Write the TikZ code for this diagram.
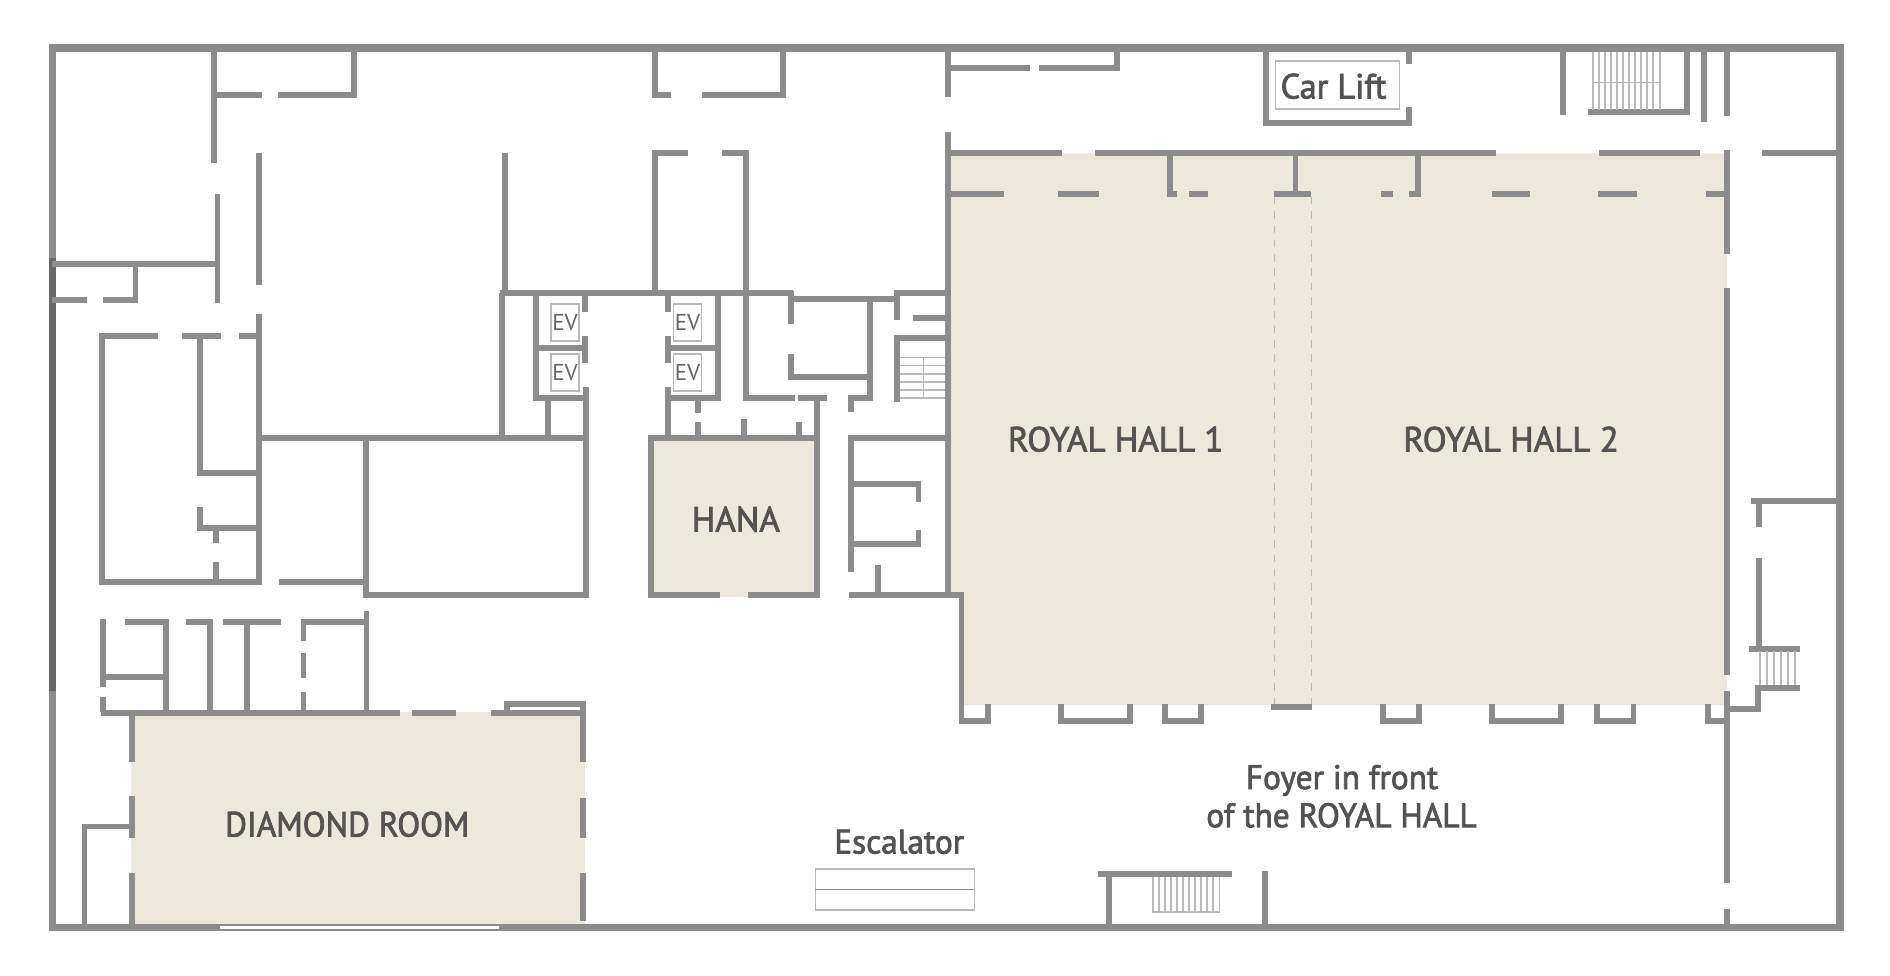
\documentclass[tikz,border=0pt]{standalone}
\usepackage{fontspec}
\setmainfont{PT Sans}
\newfontfamily\capsfont[FakeBold=2.2,FakeStretch=1.0]{PT Sans}
\newfontfamily\capsnarrow[FakeBold=2.2,FakeStretch=0.955]{PT Sans}
\newfontfamily\mixedfont[FakeBold=2.2,FakeStretch=0.98]{PT Sans}
\definecolor{wallgrey}{HTML}{8C8C8C}
\definecolor{walldark}{HTML}{676767}
\definecolor{roomfill}{HTML}{EDE8DC}
\definecolor{inkgrey}{HTML}{555252}
\definecolor{evgrey}{HTML}{666666}
\definecolor{thingrey}{HTML}{B9B9B9}
\tikzset{
  wall/.style={draw=wallgrey,line width=5.8pt,miter limit=10},
  outerwall/.style={draw=wallgrey,line width=7.8pt},
  darkwall/.style={draw=walldark,line width=7.8pt},
  thinline/.style={draw=thingrey,line width=1.1pt},
  stairline/.style={draw=thingrey,line width=1.2pt},
  foldline/.style={draw=thingrey,line width=1pt,dash pattern=on 7.5pt off 6.8pt},
  room/.style={fill=roomfill,draw=none},
  bigtext/.style={text=inkgrey,font=\capsfont\fontsize{35}{38}\selectfont,inner sep=0pt,anchor=base},
  midtext/.style={text=inkgrey,font=\mixedfont\fontsize{34}{38}\selectfont,inner sep=0pt,anchor=base},
  evtext/.style={text=evgrey,font=\fontsize{23}{25}\selectfont,inner sep=0pt,anchor=center},
  evbox/.style={thinline},
}
\begin{document}
\begin{tikzpicture}[x=1pt,y=-1pt]
\useasboundingbox (0,0) rectangle (1890,976);
% rooms
\fill[room] (950,153.5) -- (1727,153.5) -- (1727,705) -- (964,705) -- (964,595) -- (950,595) -- cycle;
\fill[room] (650,438) rectangle (817,597);
\fill[room] (130.5,712) rectangle (584.5,924);
% folding partition
\draw[foldline] (1274.5,197) -- (1274.5,704);
\draw[foldline] (1311.8,197) -- (1311.8,704);
% outer wall
\draw[outerwall] (52.5,48) rectangle (1840,927.5);
\draw[darkwall] (52.5,258) -- (52.5,691);
\fill[white] (219.8,925.7) rectangle (499.4,929.3);
% top-left rooms
\draw[wall] (214,48) -- (214,163);
\draw[wall] (214,95) -- (262,95) (277.6,95) -- (354,95) -- (354,48);
\draw[wall] (217.4,194) -- (217.4,303);
\draw[wall] (52,264.3) -- (217.4,264.3);
\draw[wall] (52,300.3) -- (87,300.3) (103,300.3) -- (135.4,300.3) -- (135.4,264.3);
\draw[wall] (259,152.7) -- (259,285);
\draw[wall] (259,314) -- (259,585);
\draw[wall] (158,335.7) -- (102,335.7) -- (102,582.3) -- (262,582.3);
\draw[wall] (182,335.7) -- (221.4,335.7) (239,335.7) -- (259,335.7);
\draw[wall] (200,335.7) -- (200,472.7) -- (259,472.7);
\draw[wall] (200,506.7) -- (200,528.3) -- (259,528.3);
\draw[wall] (216,528) -- (216,543) (216,561.7) -- (216,582);
\draw[wall] (279,582.3) -- (365.6,582.3);
% central block
\draw[wall] (259,438.3) -- (588.6,438.3);
\draw[wall] (365.6,438.3) -- (365.6,595) -- (585.8,595) -- (585.8,386.7);
\draw[wall] (504.7,152.7) -- (504.7,293.3);
\draw[wall] (502.3,293.3) -- (502.3,438);
\draw[wall] (500,293.3) -- (793,293.3);
\draw[wall] (536,293.3) -- (536,398.3);
\draw[wall] (533,398.3) -- (588,398.3);
\draw[wall] (548.3,398.3) -- (548.3,438);
\draw[wall] (533.3,348.3) -- (588.3,348.3);
\draw[wall] (585.3,293.3) -- (585.3,312.3) (585.3,335.7) -- (585.3,362.7);
% second lift bank
\draw[wall] (667.7,293.3) -- (667.7,312.3) (667.7,335.7) -- (667.7,362.7) (667.7,386.7) -- (667.7,438);
\draw[wall] (718.3,293.3) -- (718.3,398.3);
\draw[wall] (665.7,348.3) -- (720.7,348.3);
\draw[wall] (665.7,398.3) -- (720.7,398.3);
\draw[wall] (698,398.3) -- (698,413.3) (698,421.7) -- (698,438);
\draw[wall] (744,419) -- (744,438);
\draw[wall] (799,421.7) -- (799,438);
% corridor block
\draw[wall] (655,48) -- (655,95) -- (671.4,95) (702.3,95) -- (782.7,95) -- (782.7,48);
\draw[wall] (687.5,152.7) -- (655,152.7) -- (655,293.3);
\draw[wall] (721.6,152.7) -- (745.7,152.7) -- (745.7,398.3) -- (795,398.3);
\draw[wall] (798,398.3) -- (826.7,398.3);
\draw[wall] (791.3,291) -- (791.3,324.3) (791.3,354) -- (791.3,376.7);
\draw[wall] (788.5,299.3) -- (897,299.3);
\draw[wall] (788.3,376.7) -- (872.7,376.7);
\draw[wall] (870,299.3) -- (870,398.3) -- (851.3,398.3) -- (851.3,411.7);
\draw[wall] (897,291) -- (897,320);
\draw[wall] (894.3,293.3) -- (948,293.3);
\draw[wall] (912.7,318.3) -- (948,318.3);
\draw[wall] (897,402.3) -- (897,338.3) -- (948,338.3);
% stairs by hall 1
\foreach \sy in {357.7,365.5,374,382,390,398}{\draw[stairline] (899.5,\sy) -- (946,\sy);}
\draw[stairline] (923.7,357.7) -- (923.7,398);
% HANA
\draw[wall] (719.6,595) -- (650.7,595) -- (650.7,438.3) -- (816.8,438.3);
\draw[wall] (816.8,398.3) -- (816.8,595) -- (747.7,595);
% rooms right of HANA
\draw[wall] (851,571.7) -- (851,438.3) -- (950,438.3);
\draw[wall] (848,483.7) -- (918.5,483.7) -- (918.5,502.3);
\draw[wall] (848,544) -- (918.5,544) -- (918.5,530);
\draw[wall] (849,595) -- (964,595);
\draw[wall] (878.3,565) -- (878.3,595);
% hall west wall
\draw[wall] (948.2,48) -- (948.2,97.3);
\draw[wall] (948.2,131.7) -- (948.2,595);
\draw[wall] (948.2,68.3) -- (1029.8,68.3) (1039,68.3) -- (1117,68.3) -- (1117,48);
% hall north walls
\draw[wall] (948.2,152.7) -- (1062.3,152.7) (1094.5,152.7) -- (1496.3,152.7) (1598.7,152.7) -- (1700.4,152.7);
\draw[wall] (948.2,194.3) -- (1003.7,194.3) (1058,194.3) -- (1099.3,194.3) (1188.5,194.3) -- (1207.8,194.3);
\draw[wall] (1274,194.3) -- (1311.4,194.3) (1381.3,194.3) -- (1393.4,194.3);
\draw[wall] (1491.8,194.3) -- (1530.4,194.3) (1598.3,194.3) -- (1636.9,194.3) (1706,194.3) -- (1727,194.3);
\draw[wall] (1169.6,152.7) -- (1169.6,194.3) -- (1177.3,194.3);
\draw[wall] (1295.4,152.7) -- (1295.4,194.3);
\draw[wall] (1418.3,152.7) -- (1418.3,194.3) -- (1408.7,194.3);
% hall east wall
\draw[wall] (1727.3,150) -- (1727.3,254.3) (1727.3,287.7) -- (1727.3,675) (1727.3,691) -- (1727.3,883.3) (1727.3,909.3) -- (1727.3,927);
\draw[wall] (1762,152.7) -- (1837,152.7);
% hall south recesses
\draw[wall] (961.5,595) -- (961.5,721) -- (987.7,721) -- (987.7,704);
\draw[wall] (1060.6,704) -- (1060.6,721) -- (1130,721) -- (1130,704);
\draw[wall] (1165,704) -- (1165,721) -- (1200.6,721) -- (1200.6,704);
\draw[wall] (1271,706.7) -- (1312,706.7);
\draw[wall] (1383,704) -- (1383,721) -- (1419,721) -- (1419,704);
\draw[wall] (1492,704) -- (1492,721) -- (1561.2,721) -- (1561.2,704);
\draw[wall] (1597,704) -- (1597,721) -- (1633.4,721) -- (1633.4,704);
\draw[wall] (1708,704) -- (1708,721) -- (1727,721);
% east side rooms
\draw[wall] (1837,500.7) -- (1751.4,500.7);
\draw[wall] (1758.6,500.7) -- (1758.6,527.3) (1758.6,558.3) -- (1758.6,649);
\draw[wall] (1749,649) -- (1800.4,649);
\foreach \sx in {1760,1767,1774,1781,1788,1795}{\draw[stairline] (\sx,651) -- (\sx,685);}
\draw[wall] (1800.4,687.7) -- (1758.3,687.7) -- (1758.3,709) -- (1727,709);
% car lift and top stairs
\draw[wall] (1409,48) -- (1409,64.3);
\draw[wall] (1266,48) -- (1266,123.3) -- (1409,123.3) -- (1409,107.3);
\draw[wall] (1563,48) -- (1563,115);
\draw[wall] (1587.5,112.3) -- (1686.7,112.3) -- (1686.7,48);
\draw[wall] (1704,48) -- (1704,121.7);
\draw[wall] (1727.3,48) -- (1727.3,115.7);
\foreach \sx in {1593,1599,1605,1611,1617,1623,1629,1635,1641,1647,1653,1660}{\draw[stairline] (\sx,52) -- (\sx,110);}
\draw[stairline] (1592.3,82.3) -- (1660.6,82.3);
\draw[thinline] (1275.3,61) rectangle (1399.8,109);
% west rooms above Diamond
\draw[wall] (103.3,619) -- (103.3,686.7) (103.3,696.7) -- (103.3,711.7);
\draw[wall] (103.3,676.7) -- (165.5,676.7);
\draw[wall] (125.4,621.7) -- (166,621.7) -- (166,711.7);
\draw[wall] (185.6,621.7) -- (209.7,621.7) -- (209.7,711.7);
\draw[wall] (223,621.7) -- (281.3,621.7);
\draw[wall] (246.7,621.7) -- (246.7,711.7);
\draw[wall] (300.5,621.7) -- (366.4,621.7);
\draw[wall] (303.4,621.7) -- (303.4,640.7) (303.4,653.3) -- (303.4,677.7) (303.4,691.7) -- (303.4,711.7);
\draw[wall] (366.4,610.7) -- (366.4,711.7);
% Diamond room
\draw[wall] (100.5,713) -- (400,713) (412,713) -- (456,713) (491,713) -- (585,713);
\draw[wall] (131.8,713) -- (131.8,762.3) (131.8,795.7) -- (131.8,837.7) (131.8,873.3) -- (131.8,925);
\draw[wall] (503.5,704) -- (583,704) -- (583,762.3);
\draw[wall] (507,704) -- (507,713);
\draw[wall] (583,798.3) -- (583,838.3) (583,872.7) -- (583,921);
\draw[wall] (131,826.5) -- (84.4,826.5) -- (84.4,925);
% south wall items
\draw[wall] (1098,874) -- (1231.5,874);
\draw[wall] (1109,874) -- (1109,927);
\foreach \sx in {1153,1159,1165,1171,1177,1183,1189,1195,1201,1207,1213,1219.5}{\draw[stairline] (\sx,877) -- (\sx,912);}
\draw[stairline] (1152.3,912) -- (1220,912);
\draw[wall] (1265,871) -- (1265,927);
% escalator
\draw[thinline] (815.2,869) rectangle (974.3,910);
\draw[draw=wallgrey,line width=1.2pt] (815.2,889.5) -- (974.3,889.5);
% lift cars
\foreach \bx/\by/\bn in {551/304/a,551/354/b,673.6/304/c,673.6/354/d}{
  \draw[evbox] (\bx,\by) rectangle ++(28,37);
  \node[evtext] (ev\bn) at (\bx+14,\by+18.5) {EV};
}
% labels
\node[midtext,font=\mixedfont\fontsize{35}{38}\selectfont] (carlift) at (1333.5,98.5) {Car Lift};
\node[bigtext] (hall1) at (1115.7,451.5) {ROYAL HALL 1};
\node[bigtext] (hall2) at (1511.1,451.5) {ROYAL HALL 2};
\node[bigtext] (hana) at (735.8,531.5) {HANA};
\node[bigtext,font=\capsnarrow\fontsize{35}{38}\selectfont] (diamond) at (347.3,836.5) {DIAMOND ROOM};
\node[midtext] (escalator) at (899.2,853.5) {Escalator};
\node[midtext] (foyera) at (1342,789) {Foyer in front};
\node[midtext] (foyerb) at (1341.5,827.2) {of the ROYAL HALL};
\end{tikzpicture}
\end{document}
